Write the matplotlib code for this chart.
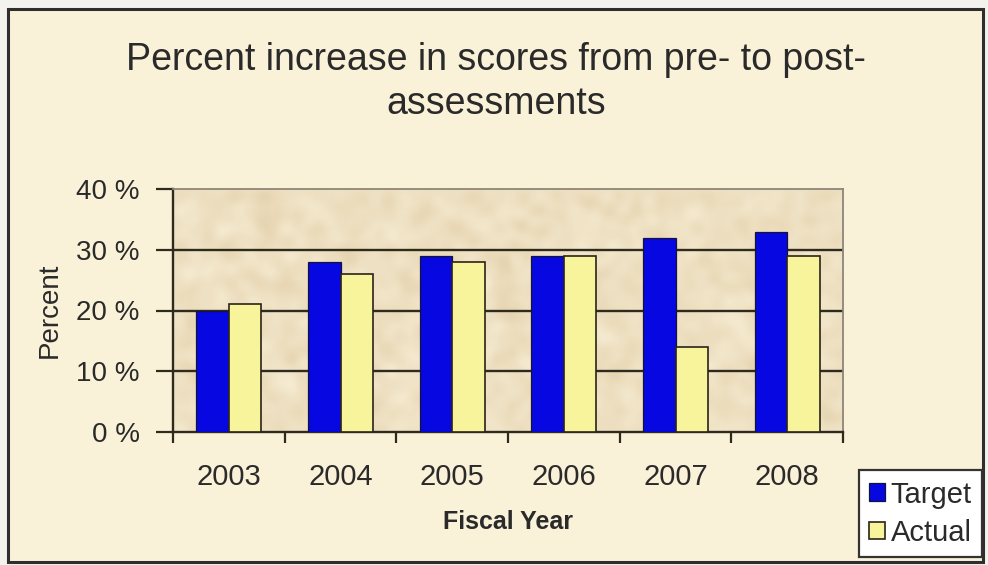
import numpy as np
import matplotlib
matplotlib.use("Agg")
import matplotlib.pyplot as plt
from matplotlib.patches import Rectangle
from matplotlib.ticker import MultipleLocator, FuncFormatter

plt.rcParams['font.family'] = ['Liberation Sans', 'DejaVu Sans']

years = ["2003", "2004", "2005", "2006", "2007", "2008"]
target = [20, 28, 29, 29, 32, 33]
actual = [21, 26, 28, 29, 14, 29]
grid_levels = [10, 20, 30]

W, H = 988, 565
fig = plt.figure(figsize=(W / 100, H / 100), dpi=100)
fig.patch.set_facecolor("#f4f2ec")

# chart frame with cream fill
frame = Rectangle((8 / W, 3 / H), 975 / W, 553 / H, transform=fig.transFigure,
                  facecolor="#faf2d8", edgecolor="#2e2e2e", linewidth=2.2, zorder=-5)
fig.patches.append(frame)

ax = fig.add_axes([173 / W, 133 / H, 670 / W, 243 / H])
ax.set_facecolor("#e8d7b2")

# soft parchment texture behind the bars
rng = np.random.default_rng(7)
tex = rng.normal(size=(80, 220))
k = np.ones(4) / 4
for _ in range(2):
    tex = np.apply_along_axis(lambda r: np.convolve(r, k, mode="same"), 1, tex)
    tex = np.apply_along_axis(lambda c: np.convolve(c, k, mode="same"), 0, tex)
tex = (tex - tex.min()) / (tex.max() - tex.min())
base = np.array([0.900, 0.830, 0.690])
light = np.array([0.965, 0.925, 0.825])
img = base[None, None, :] * (1 - tex[..., None]) + light[None, None, :] * tex[..., None]
ax.imshow(img, extent=(-0.5, 5.5, 0, 40), aspect="auto", zorder=0, interpolation="bicubic")

for g in grid_levels:
    ax.axhline(g, color="#2f2a1e", linewidth=1.7, zorder=1)

x = np.arange(len(years))
bw = 0.29
ax.bar(x - bw / 2, target, bw, color="#0707e2", edgecolor="#14143a", linewidth=0.9,
       label="Target", zorder=3)
ax.bar(x + bw / 2, actual, bw, color="#f8f49c", edgecolor="#2a2418", linewidth=1.2,
       label="Actual", zorder=3)

ax.set_xlim(-0.5, 5.5)
ax.set_ylim(0, 40)
ax.yaxis.set_major_locator(MultipleLocator(10))
ax.yaxis.set_major_formatter(FuncFormatter(lambda v, p: f"{int(v)} %"))

ax.set_xticks(x)
ax.set_xticklabels(years)
ax.set_xticks(np.arange(-0.5, 6.0, 1.0), minor=True)
ax.tick_params(axis="x", which="major", length=0, pad=22, labelsize=21, labelcolor="#2a2a2a")
ax.tick_params(axis="x", which="minor", length=8, width=1.6, color="#2f2a1e", direction="out")
ax.tick_params(axis="y", length=12, width=1.6, color="#2f2a1e", pad=12,
               labelsize=20, labelcolor="#2a2a2a")

for side in ("top", "right"):
    ax.spines[side].set_color("#8c877c")
    ax.spines[side].set_linewidth(1.3)
for side in ("left", "bottom"):
    ax.spines[side].set_color("#2f2a1e")
    ax.spines[side].set_linewidth(1.7)

ax.set_ylabel("Percent", fontsize=20, color="#2a2a2a", labelpad=10)
ax.set_xlabel("Fiscal Year", fontsize=18, fontweight="bold", color="#2a2a2a", labelpad=14)

fig.text(496 / W, 1 - 82 / H, "Percent increase in scores from pre- to post-\nassessments",
         ha="center", va="center", fontsize=27, color="#2a2a2a", linespacing=1.27)

leg = fig.legend(loc="lower right", bbox_to_anchor=(982 / W, 8 / H), fontsize=21,
                 frameon=True, fancybox=False, edgecolor="#333333", facecolor="#ffffff",
                 framealpha=1, handlelength=0.55, handleheight=0.55, handletextpad=0.2,
                 borderpad=0.35, labelspacing=0.35, borderaxespad=0)
leg.get_frame().set_linewidth(1.6)
for t in leg.get_texts():
    t.set_color("#2a2a2a")

fig.savefig("out.png", dpi=100, facecolor=fig.get_facecolor())
